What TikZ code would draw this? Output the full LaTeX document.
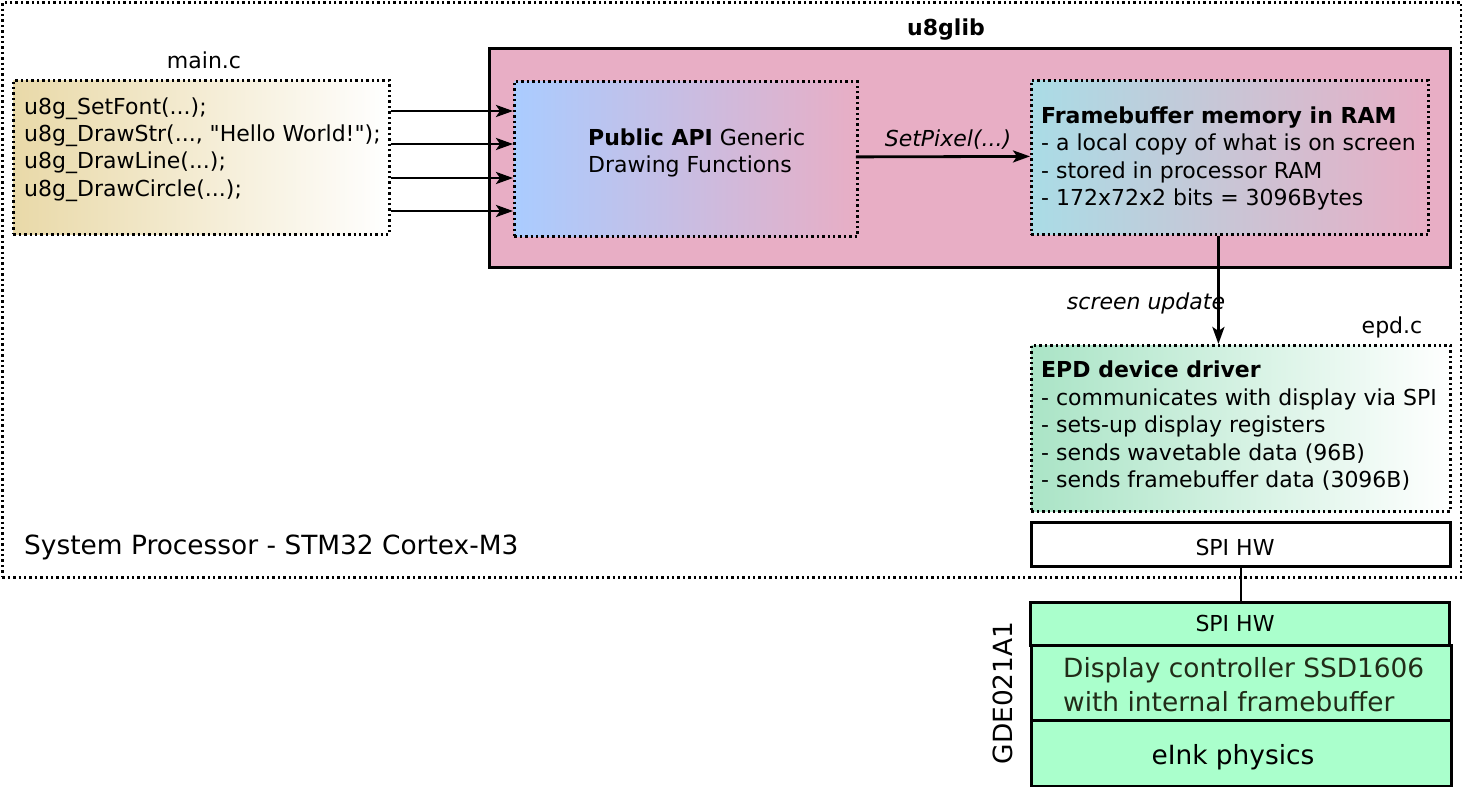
\documentclass[tikz,border=0pt]{standalone}
\usepackage{fontspec}
\setmainfont{DejaVu Sans}[Ligatures=TeXOff]
\usetikzlibrary{arrows.meta}
\definecolor{pinkbg}{RGB}{232,174,197}
\definecolor{tanc}{RGB}{233,217,168}
\definecolor{bluec}{RGB}{170,204,255}
\definecolor{cyanc}{RGB}{170,220,230}
\definecolor{greenc}{RGB}{170,228,198}
\definecolor{mintc}{RGB}{170,255,204}
\definecolor{darktext}{RGB}{34,44,24}
\begin{document}
\begin{tikzpicture}[x=1pt,y=-1pt,
  dotbox/.style={draw, line width=2.8pt, dash pattern=on 2.4pt off 3pt, inner sep=0pt, anchor=north west},
  solidbox/.style={draw, line width=2.8pt, inner sep=0pt, anchor=north west},
  txt/.style={inner sep=0pt, font=\fontsize{22}{27.4}\selectfont},
  big/.style={inner sep=0pt, font=\fontsize{26.4}{33.5}\selectfont},
  arr/.style={line width=2.8pt, -{Stealth[length=17pt,width=12pt,inset=4pt]}}]
\useasboundingbox (0,0) rectangle (1462,787);

% outer system processor frame
\node[dotbox, minimum width=1459pt, minimum height=575pt] (sys) at (1,1) {};
\node[big, anchor=base west] (syslabel) at (24,554) {System Processor - STM32 Cortex-M3};

% main.c
\node[txt, anchor=base] (mainlabel) at (204,68) {main.c};
\node[dotbox, left color=tanc, right color=white, minimum width=376pt, minimum height=154pt] (mainbox) at (12,79) {};
\node[txt, anchor=north west, align=left] (maintext) at (24,97.3)
  {u8g\_SetFont(...);\\u8g\_DrawStr(..., "Hello World!");\\u8g\_DrawLine(...);\\u8g\_DrawCircle(...);};

% u8glib
\node[txt, font=\fontsize{22}{27.4}\selectfont\bfseries, anchor=base] (u8glabel) at (946,35) {u8glib};
\node[solidbox, fill=pinkbg, minimum width=961pt, minimum height=219pt] (u8g) at (488,47) {};

\node[dotbox, left color=bluec, right color=pinkbg, minimum width=343pt, minimum height=155pt] (api) at (513,80) {};
\node[txt, anchor=north west, align=left] (apitext) at (588,128.5)
  {{\bfseries Public API} Generic\\Drawing Functions};

\node[dotbox, left color=cyanc, right color=pinkbg, minimum width=397pt, minimum height=154pt] (fb) at (1030,79) {};
\node[txt, anchor=north west, align=left] (fbtext) at (1041,106.3)
  {{\bfseries Framebuffer memory in RAM}\\- a local copy of what is on screen\\- stored in processor RAM\\- 172x72x2 bits = 3096Bytes};

% arrows main -> api
\draw[arr] ([yshift=-32pt]mainbox.north east) -- ([yshift=-31pt]api.north west);
\draw[arr] ([yshift=-65pt]mainbox.north east) -- ([yshift=-64pt]api.north west);
\draw[arr] ([yshift=-99pt]mainbox.north east) -- ([yshift=-98pt]api.north west);
\draw[arr] ([yshift=-132pt]mainbox.north east) -- ([yshift=-131pt]api.north west);

% SetPixel
\draw[arr] ([xshift=-3pt,yshift=2pt]api.east) -- ([yshift=1pt]fb.west);
\node[txt, font=\fontsize{22}{27.4}\selectfont\itshape, anchor=base] (setpix) at (948,146) {SetPixel(...)};

% EPD driver
\node[txt, anchor=base] (epdlabel) at (1392,333) {epd.c};
\node[dotbox, left color=greenc, right color=white, minimum width=419pt, minimum height=166pt] (epd) at (1030,344) {};
\node[txt, font=\fontsize{22}{27.6}\selectfont, anchor=north west, align=left] (epdtext) at (1041,360.5)
  {{\bfseries EPD device driver}\\- communicates with display via SPI\\- sets-up display registers\\- sends wavetable data (96B)\\- sends framebuffer data (3096B)};

\draw[arr] ([xshift=-11.5pt]fb.south) -- ([xshift=-11.5pt]fb.south |- epd.north);
\node[txt, font=\fontsize{22}{27.4}\selectfont\itshape, anchor=base] (scrupd) at (1146,309) {screen update};

% SPI HW (processor)
\node[solidbox, fill=white, minimum width=419pt, minimum height=44pt] (spi1) at (1030,521) {};
\node[txt, anchor=base] (spi1text) at (1235,555) {SPI HW};

% display module
\node[solidbox, fill=mintc, minimum width=419pt, minimum height=43pt] (spi2) at (1029,601) {};
\node[txt, anchor=base] (spi2text) at (1235,631.5) {SPI HW};
\node[solidbox, fill=mintc, minimum width=420pt, minimum height=75pt] (disp) at (1030,644) {};
\node[big, anchor=north west, align=left, text=darktext] (disptext) at (1063,657.5)
  {Display controller SSD1606\\with internal framebuffer};
\node[solidbox, fill=mintc, minimum width=420pt, minimum height=66pt] (eink) at (1030,719) {};
\node[big, anchor=base] (einktext) at (1233,764) {eInk physics};
\node[big, anchor=base, rotate=90] (gde) at (1012,693) {GDE021A1};

\draw[line width=2.6pt] (spi1.south) -- (spi1.south |- spi2.north);
\end{tikzpicture}
\end{document}
